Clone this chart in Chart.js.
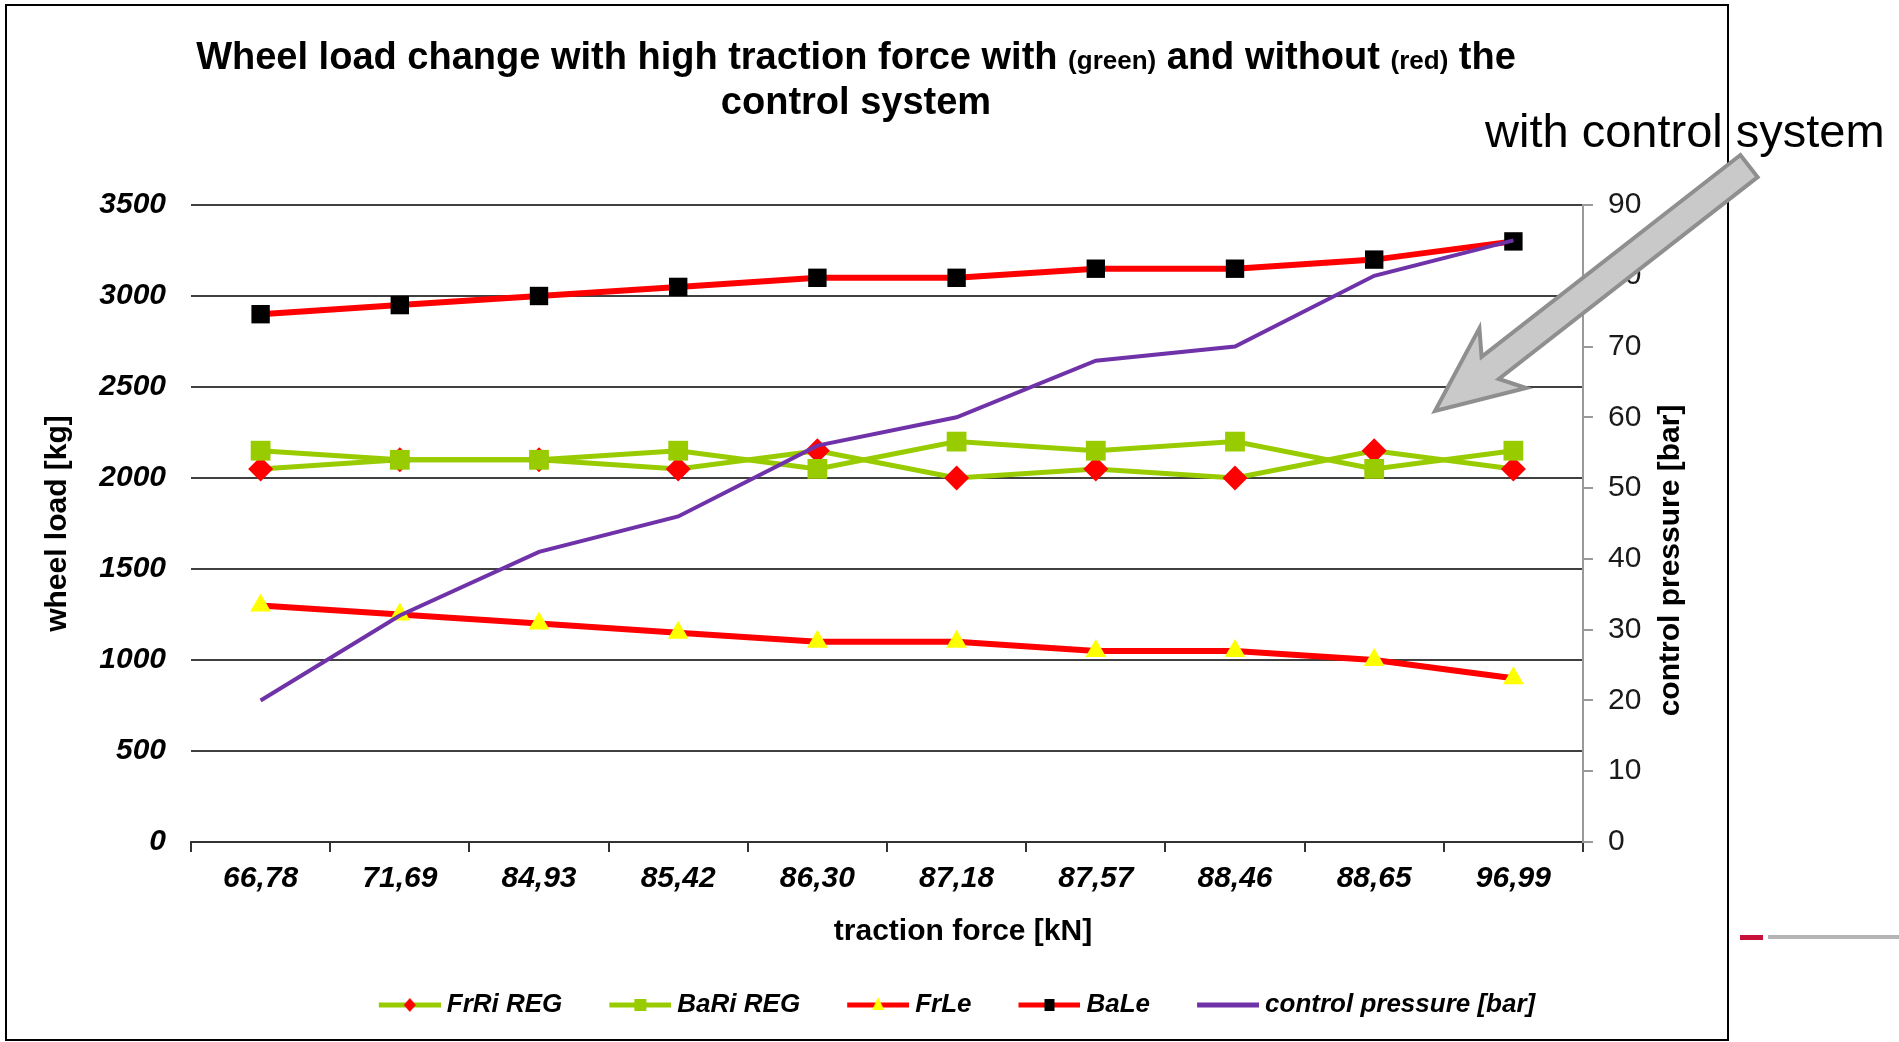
<!DOCTYPE html>
<html>
<head>
<meta charset="utf-8">
<title>Wheel load change</title>
<script src="https://cdn.jsdelivr.net/npm/chart.js@4.4.1/dist/chart.umd.min.js"></script>
<style>
  html, body { margin: 0; padding: 0; background: #fff; }
  #wrap { width: 1899px; height: 1042px; }
</style>
</head>
<body>
<div id="wrap"><canvas id="wheelChart" width="1899" height="1042"></canvas></div>
<script>
// values
const tractionForce = ["66,78", "71,69", "84,93", "85,42", "86,30", "87,18", "87,57", "88,46", "88,65", "96,99"];
const frRiReg = [2050, 2100, 2100, 2050, 2150, 2000, 2050, 2000, 2150, 2050];
const baRiReg = [2150, 2100, 2100, 2150, 2050, 2200, 2150, 2200, 2050, 2150];
const frLe = [1300, 1250, 1200, 1150, 1100, 1100, 1050, 1050, 1000, 900];
const baLe = [2900, 2950, 3000, 3050, 3100, 3100, 3150, 3150, 3200, 3300];
const controlPressure = [20, 32, 41, 46, 56, 60, 68, 70, 80, 85];

const titleParts = ["Wheel load change with high traction force with ", "(green)", " and without ", "(red)", " the"];
const titleLine2 = "control system";
const xTitle = "traction force [kN]";
const yTitle = "wheel load [kg]";
const y1Title = "control pressure [bar]";
const noteText = "with control system";

const FONT = '"Liberation Sans", Arial, sans-serif';
const GREEN = "#99cc00";
const RED = "#ff0000";
const PURPLE = "#7032a8";

// little line+marker pictures for the legend
function makeLegendIcon(lineColor, marker) {
  const c = document.createElement("canvas");
  c.width = 96;
  c.height = 24;
  const g = c.getContext("2d");
  g.strokeStyle = lineColor;
  g.lineWidth = 5;
  g.beginPath();
  g.moveTo(34, 12);
  g.lineTo(96, 12);
  g.stroke();
  if (marker) marker(g, 65, 12);
  return c;
}

const legendIcons = [
  makeLegendIcon(GREEN, (g, x, y) => {
    g.fillStyle = RED;
    g.beginPath();
    g.moveTo(x, y - 7); g.lineTo(x + 6, y); g.lineTo(x, y + 7); g.lineTo(x - 6, y);
    g.closePath();
    g.fill();
  }),
  makeLegendIcon(GREEN, (g, x, y) => {
    g.fillStyle = GREEN;
    g.fillRect(x - 6, y - 6, 12, 12);
  }),
  makeLegendIcon(RED, (g, x, y) => {
    g.fillStyle = "#ffff00";
    g.beginPath();
    g.moveTo(x, y - 8); g.lineTo(x + 6, y + 5); g.lineTo(x - 6, y + 5);
    g.closePath();
    g.fill();
  }),
  makeLegendIcon(RED, (g, x, y) => {
    g.fillStyle = "#000";
    g.fillRect(x - 5, y - 6, 10, 12);
  }),
  makeLegendIcon(PURPLE, null),
];

function drawArrow(ctx, tail, tip) {
  const dx = tip.x - tail.x, dy = tip.y - tail.y;
  const len = Math.hypot(dx, dy);
  const ux = dx / len, uy = dy / len;
  const px = -uy, py = ux;
  const shaft = 14, head = 38, headLen = 86, neck = 70;
  const at = (t, w) => [tip.x - ux * t + px * w, tip.y - uy * t + py * w];
  const pts = [
    [tail.x + px * shaft, tail.y + py * shaft],
    at(neck, shaft),
    at(headLen, head),
    [tip.x, tip.y],
    at(headLen, -head),
    at(neck, -shaft),
    [tail.x - px * shaft, tail.y - py * shaft],
  ];
  ctx.beginPath();
  pts.forEach((p, i) => (i ? ctx.lineTo(p[0], p[1]) : ctx.moveTo(p[0], p[1])));
  ctx.closePath();
  ctx.fillStyle = "#c9c9c9";
  ctx.fill();
  ctx.lineWidth = 4;
  ctx.strokeStyle = "#8f8f8f";
  ctx.lineJoin = "miter";
  ctx.stroke();
}

const decorPlugin = {
  id: "decor",
  afterDraw(chart) {
    const ctx = chart.ctx;
    const area = chart.chartArea;
    ctx.save();

    // slide frame
    ctx.strokeStyle = "#000";
    ctx.lineWidth = 2;
    ctx.strokeRect(6, 5, 1722, 1035);

    // title with the small bracketed words
    ctx.fillStyle = "#000";
    ctx.textBaseline = "alphabetic";
    const bigFont = "bold 38px " + FONT;
    const smallFont = "bold 26px " + FONT;
    const parts = titleParts.map((t) => {
      ctx.font = t.startsWith("(") ? smallFont : bigFont;
      return { t, f: ctx.font, w: ctx.measureText(t).width };
    });
    const total = parts.reduce((s, p) => s + p.w, 0);
    let x = 856 - total / 2;
    parts.forEach((p) => {
      ctx.font = p.f;
      ctx.textAlign = "left";
      ctx.fillText(p.t, x, 69);
      x += p.w;
    });
    ctx.font = bigFont;
    ctx.textAlign = "center";
    ctx.fillText(titleLine2, 856, 114);

    // x axis title
    ctx.font = "bold 30px " + FONT;
    ctx.textBaseline = "middle";
    ctx.fillText(xTitle, area.left + 772, 932);

    // right axis title, read bottom to top
    ctx.save();
    ctx.translate(area.right + 88, (area.top + area.bottom) / 2 + 37);
    ctx.rotate(-Math.PI / 2);
    ctx.fillText(y1Title, 0, 0);
    ctx.restore();

    // callout
    drawArrow(ctx, { x: 1749, y: 166 }, { x: 1435, y: 411 });
    ctx.font = "47px " + FONT;
    ctx.textAlign = "left";
    ctx.textBaseline = "alphabetic";
    ctx.fillStyle = "#000";
    ctx.fillText(noteText, 1485, 147);

    // bits of the slide template at the lower right
    ctx.fillStyle = "#c8103a";
    ctx.fillRect(1740, 935, 23, 5);
    ctx.fillStyle = "#b4b4b4";
    ctx.fillRect(1768, 935, 131, 4);

    ctx.restore();
  },
};

const tickFont = { family: FONT, size: 30, weight: "bold", style: "italic" };

new Chart(document.getElementById("wheelChart").getContext("2d"), {
  type: "line",
  data: {
    labels: tractionForce,
    datasets: [
      {
        label: "FrRi REG",
        data: frRiReg,
        borderColor: GREEN,
        backgroundColor: RED,
        borderWidth: 5,
        pointStyle: "rectRot",
        pointRadius: 12.5,
        pointBackgroundColor: RED,
        pointBorderColor: RED,
        pointBorderWidth: 0,
        yAxisID: "y",
        order: 4,
      },
      {
        label: "BaRi REG",
        data: baRiReg,
        borderColor: GREEN,
        backgroundColor: GREEN,
        borderWidth: 5,
        pointStyle: "rect",
        pointRadius: 14,
        pointBackgroundColor: GREEN,
        pointBorderColor: GREEN,
        pointBorderWidth: 0,
        yAxisID: "y",
        order: 3,
      },
      {
        label: "FrLe",
        data: frLe,
        borderColor: RED,
        backgroundColor: "#ffff00",
        borderWidth: 6,
        pointStyle: "triangle",
        pointRadius: 12,
        pointBackgroundColor: "#ffff00",
        pointBorderColor: "#ffff00",
        pointBorderWidth: 0,
        yAxisID: "y",
        order: 2,
      },
      {
        label: "BaLe",
        data: baLe,
        borderColor: RED,
        backgroundColor: "#000",
        borderWidth: 6,
        pointStyle: "rect",
        pointRadius: 13,
        pointBackgroundColor: "#000",
        pointBorderColor: "#000",
        pointBorderWidth: 0,
        yAxisID: "y",
        order: 1,
      },
      {
        label: "control pressure [bar]",
        data: controlPressure,
        borderColor: PURPLE,
        backgroundColor: PURPLE,
        borderWidth: 4,
        pointRadius: 0,
        yAxisID: "y1",
        order: 0,
      },
    ],
  },
  options: {
    responsive: false,
    animation: false,
    devicePixelRatio: 1,
    events: [],
    elements: { line: { tension: 0, fill: false } },
    layout: { padding: { left: 0, right: 12, top: 205, bottom: 14 } },
    plugins: {
      title: { display: false },
      tooltip: { enabled: false },
      legend: {
        position: "bottom",
        labels: {
          usePointStyle: true,
          pointStyleWidth: 82,
          boxHeight: 20,
          padding: 20,
          color: "#000",
          font: { family: FONT, size: 26, weight: "bold", style: "italic" },
          sort: (a, b) => a.datasetIndex - b.datasetIndex,
          generateLabels(chart) {
            const items = Chart.defaults.plugins.legend.labels.generateLabels(chart);
            items.forEach((it) => {
              it.pointStyle = legendIcons[it.datasetIndex];
              it.rotation = 0;
            });
            return items;
          },
        },
      },
    },
    scales: {
      x: {
        offset: true,
        grid: {
          display: true,
          drawOnChartArea: false,
          drawTicks: true,
          tickLength: 10,
          color: "#333",
          lineWidth: 2,
          offset: true,
        },
        border: { display: true, color: "#333", width: 2 },
        ticks: { color: "#000", font: tickFont, padding: 9, maxRotation: 0, autoSkip: false },
        afterFit(scale) {
          scale.height = 130;
        },
      },
      y: {
        position: "left",
        min: 0,
        max: 3500,
        ticks: {
          stepSize: 500,
          color: "#000",
          font: tickFont,
          padding: 25,
          callback: (value) => String(value),
        },
        grid: { color: "#404040", lineWidth: 2, drawTicks: false },
        border: { display: false },
        title: {
          display: true,
          text: yTitle,
          color: "#000",
          font: { family: FONT, size: 30, weight: "bold" },
          padding: { top: 40, bottom: 0 },
        },
        afterFit(scale) {
          scale.width = 191;
        },
      },
      y1: {
        position: "right",
        min: 0,
        max: 90,
        ticks: { stepSize: 10, color: "#1a1a1a", font: { family: FONT, size: 30 }, padding: 15 },
        grid: { drawOnChartArea: false, tickLength: 10, color: "#9a9a9a", lineWidth: 2 },
        border: { display: true, color: "#9a9a9a", width: 2 },
        afterFit(scale) {
          scale.width = 304;
        },
      },
    },
  },
  plugins: [decorPlugin],
});
</script>
</body>
</html>
